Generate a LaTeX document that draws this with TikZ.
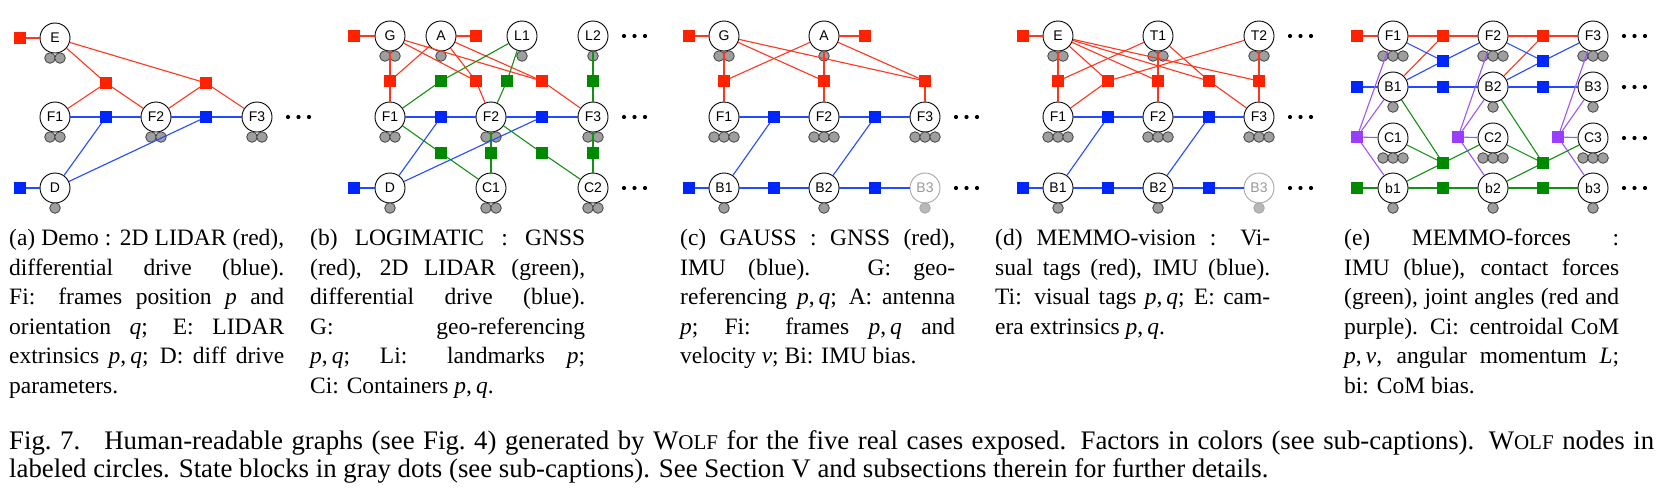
\documentclass[tikz,border=0pt]{standalone}
\usepackage{fontspec}
\setmainfont{Liberation Serif}
\newfontfamily\lblfamily{Liberation Sans}
\definecolor{fred}{RGB}{255,34,0}
\definecolor{fblue}{RGB}{0,38,255}
\definecolor{fgreen}{RGB}{0,138,0}
\definecolor{fpurp}{RGB}{153,61,255}
\definecolor{lred}{RGB}{255,55,30}
\definecolor{lblue}{RGB}{35,75,255}
\definecolor{lgreen}{RGB}{20,145,20}
\definecolor{lpurp}{RGB}{160,85,255}
\definecolor{sbgray}{RGB}{158,158,158}
\newcommand\lblfont{\lblfamily\fontsize{14}{14}\selectfont}
\newcommand\subcapfont{\fontsize{23.5}{29.5}\selectfont}
\newcommand\maincapfont{\fontsize{26.8}{29}\selectfont}
\newcommand\wolfsc{W{\fontsize{21}{21}\selectfont OLF}}
\newcommand\pq{\textit{p},\kern4pt\textit{q}}
\newcommand\sbone[1]{\filldraw[sb] (#1.center) ++(0,20) circle[radius=5.3];}
\newcommand\sbtwo[1]{\filldraw[sb] (#1.center) ++(-5,20) circle[radius=5.3];\filldraw[sb] (#1.center) ++(5,20) circle[radius=5.3];}
\newcommand\sbthree[1]{\filldraw[sb] (#1.center) ++(-10,20) circle[radius=5.3];\filldraw[sb] (#1.center) ++(0,20) circle[radius=5.3];\filldraw[sb] (#1.center) ++(10,20) circle[radius=5.3];}
\newcommand\sbghost[1]{\filldraw[sbg] (#1.center) ++(0,20) circle[radius=5.3];}
\newcommand\ellrow[2]{\fill (#1,#2) circle[radius=2.1]; \fill ({#1+10.5},#2) circle[radius=2.1]; \fill ({#1+21},#2) circle[radius=2.1];}
\begin{document}
\begin{tikzpicture}[x=1pt,y=-1pt,
  var/.style={circle,draw=black,fill=white,line width=0.9pt,minimum size=30pt,inner sep=0pt,font=\lblfont},
  ghost/.style={var,draw=black!35,text=black!40},
  fac/.style={rectangle,minimum size=11.5pt,inner sep=0pt,draw=none},
  fr/.style={fac,fill=fred}, fb/.style={fac,fill=fblue},
  fg/.style={fac,fill=fgreen}, fp/.style={fac,fill=fpurp},
  er/.style={draw=lred,line width=1.1pt}, eb/.style={draw=lblue,line width=1.1pt},
  eg/.style={draw=lgreen,line width=1.1pt}, ep/.style={draw=lpurp,line width=1.1pt},
  sb/.style={fill=sbgray,draw=black!75,line width=0.8pt},
  sbg/.style={fill=black!28,draw=black!35,line width=0.8pt},
  subcap/.style={anchor=base west,inner sep=0pt,font=\subcapfont},
  maincap/.style={anchor=base west,inner sep=0pt,font=\maincapfont}]
\useasboundingbox (0,0) rectangle (1676,488);
\fill[white] (0,0) rectangle (1676,488);

% ---------------- (a) ----------------
\node[var] (aE) at (55,38) {E};
\node[fr] (aRE) at (20,38) {};
\node[fr] (aR1) at (106,83) {};
\node[fr] (aR2) at (206,83) {};
\node[var] (aF1) at (55,117) {F1};
\node[var] (aF2) at (156,117) {F2};
\node[var] (aF3) at (257,117) {F3};
\node[fb] (aB1) at (106,117) {};
\node[fb] (aB2) at (206,117) {};
\node[var] (aD) at (55,188) {D};
\node[fb] (aBD) at (20,188) {};
\sbtwo{aE}\sbtwo{aF1}\sbtwo{aF2}\sbtwo{aF3}\sbone{aD}
\foreach \a/\b in {aRE/aE,aE/aR1,aR1/aF1,aR1/aF2,aE/aR2,aR2/aF2,aR2/aF3} \draw[er] (\a) -- (\b);
\foreach \a/\b in {aF1/aB1,aB1/aF2,aF2/aB2,aB2/aF3,aD/aB1,aD/aB2,aBD/aD} \draw[eb] (\a) -- (\b);
\ellrow{288}{117}

% ---------------- (b) ----------------
\node[var] (bG) at (390,36) {G};
\node[fr] (bRG) at (354,36) {};
\node[var] (bA) at (441,36) {A};
\node[fr] (bRA) at (476,36) {};
\node[var] (bL1) at (522,36) {L1};
\node[var] (bL2) at (593,36) {L2};
\node[fr] (bR1) at (390,81) {};
\node[fg] (bG1) at (441,81) {};
\node[fr] (bR2) at (476,81) {};
\node[fg] (bG2) at (507,81) {};
\node[fr] (bR3) at (542,81) {};
\node[fg] (bG3) at (593,81) {};
\node[var] (bF1) at (390,117) {F1};
\node[fb] (bB1) at (441,117) {};
\node[var] (bF2) at (491,117) {F2};
\node[fb] (bB2) at (542,117) {};
\node[var] (bF3) at (593,117) {F3};
\node[fg] (bG4) at (441,153) {};
\node[fg] (bG5) at (491,153) {};
\node[fg] (bG6) at (542,153) {};
\node[fg] (bG7) at (593,153) {};
\node[var] (bD) at (390,188) {D};
\node[fb] (bBD) at (354,188) {};
\node[var] (bC1) at (491,188) {C1};
\node[var] (bC2) at (593,188) {C2};
\sbtwo{bG}\sbone{bA}\sbone{bL1}\sbone{bL2}\sbtwo{bF1}\sbtwo{bF2}\sbtwo{bF3}\sbone{bD}\sbtwo{bC1}\sbtwo{bC2}
\foreach \a/\b in {bRG/bG,bA/bRA,bG/bR1,bA/bR1,bR1/bF1,bG/bR2,bA/bR2,bR2/bF2,bG/bR3,bA/bR3,bR3/bF3} \draw[er] (\a) -- (\b);
\foreach \a/\b in {bL1/bG1,bG1/bF1,bL1/bG2,bG2/bF2,bL2/bG3,bG3/bF3,bF1/bG4,bG4/bC1,bF2/bG5,bG5/bC1,bF2/bG6,bG6/bC2,bF3/bG7,bG7/bC2} \draw[eg] (\a) -- (\b);
\foreach \a/\b in {bF1/bB1,bB1/bF2,bF2/bB2,bB2/bF3,bD/bB1,bD/bB2,bBD/bD} \draw[eb] (\a) -- (\b);
\ellrow{624}{36}\ellrow{624}{117}\ellrow{624}{188}

% ---------------- (c) ----------------
\node[var] (cG) at (724,36) {G};
\node[fr] (cRG) at (689,36) {};
\node[var] (cA) at (824,36) {A};
\node[fr] (cRA) at (865,36) {};
\node[fr] (cR1) at (724,81) {};
\node[fr] (cR2) at (824,81) {};
\node[fr] (cR3) at (925,81) {};
\node[var] (cF1) at (724,117) {F1};
\node[fb] (cQ1) at (774,117) {};
\node[var] (cF2) at (824,117) {F2};
\node[fb] (cQ2) at (875,117) {};
\node[var] (cF3) at (925,117) {F3};
\node[var] (cB1) at (724,188) {B1};
\node[fb] (cBL) at (689,188) {};
\node[fb] (cQ3) at (774,188) {};
\node[var] (cB2) at (824,188) {B2};
\node[fb] (cQ4) at (875,188) {};
\node[ghost] (cB3) at (925,188) {B3};
\sbtwo{cG}\sbone{cA}\sbthree{cF1}\sbthree{cF2}\sbthree{cF3}\sbone{cB1}\sbone{cB2}\sbghost{cB3}
\foreach \a/\b in {cRG/cG,cA/cRA,cG/cR1,cA/cR1,cR1/cF1,cG/cR2,cA/cR2,cR2/cF2,cG/cR3,cA/cR3,cR3/cF3} \draw[er] (\a) -- (\b);
\foreach \a/\b in {cF1/cQ1,cQ1/cF2,cF2/cQ2,cQ2/cF3,cB1/cQ1,cB2/cQ2,cBL/cB1,cB1/cQ3,cQ3/cB2,cB2/cQ4,cQ4/cB3} \draw[eb] (\a) -- (\b);
\ellrow{956}{117}\ellrow{956}{188}

% ---------------- (d) ----------------
\node[var] (dE) at (1058,36) {E};
\node[fr] (dRE) at (1023,36) {};
\node[var] (dT1) at (1158,36) {T1};
\node[var] (dT2) at (1259,36) {T2};
\node[fr] (dR1) at (1058,81) {};
\node[fr] (dR2) at (1108,81) {};
\node[fr] (dR3) at (1158,81) {};
\node[fr] (dR4) at (1209,81) {};
\node[fr] (dR5) at (1259,81) {};
\node[var] (dF1) at (1058,117) {F1};
\node[fb] (dQ1) at (1108,117) {};
\node[var] (dF2) at (1158,117) {F2};
\node[fb] (dQ2) at (1209,117) {};
\node[var] (dF3) at (1259,117) {F3};
\node[var] (dB1) at (1058,188) {B1};
\node[fb] (dBL) at (1023,188) {};
\node[fb] (dQ3) at (1108,188) {};
\node[var] (dB2) at (1158,188) {B2};
\node[fb] (dQ4) at (1209,188) {};
\node[ghost] (dB3) at (1259,188) {B3};
\sbtwo{dE}\sbtwo{dT1}\sbtwo{dT2}\sbthree{dF1}\sbthree{dF2}\sbthree{dF3}\sbone{dB1}\sbone{dB2}\sbghost{dB3}
\foreach \a/\b in {dRE/dE,dE/dR1,dT1/dR1,dR1/dF1,dE/dR2,dT2/dR2,dR2/dF1,dE/dR3,dT1/dR3,dR3/dF2,dE/dR4,dT1/dR4,dR4/dF3,dE/dR5,dT2/dR5,dR5/dF3} \draw[er] (\a) -- (\b);
\foreach \a/\b in {dF1/dQ1,dQ1/dF2,dF2/dQ2,dQ2/dF3,dB1/dQ1,dB2/dQ2,dBL/dB1,dB1/dQ3,dQ3/dB2,dB2/dQ4,dQ4/dB3} \draw[eb] (\a) -- (\b);
\ellrow{1290}{36}\ellrow{1290}{117}\ellrow{1290}{188}

% ---------------- (e) ----------------
\node[fr] (eRL) at (1357,36) {};
\node[fb] (eBL) at (1357,87) {};
\node[fp] (ePL) at (1357,137) {};
\node[fg] (eGL) at (1357,188) {};
\foreach \i/\x in {1/1393,2/1493,3/1593}{
  \node[var] (eF\i) at (\x,36) {F\i};
  \node[var] (eB\i) at (\x,87) {B\i};
  \node[var] (eC\i) at (\x,138) {C\i};
  \node[var] (eb\i) at (\x,188) {b\i};
}
\foreach \i/\x in {1/1443,2/1543}{
  \node[fr] (eR\i) at (\x,36) {};
  \node[fb] (eQ\i) at (\x,61) {};
  \node[fb] (eH\i) at (\x,87) {};
  \node[fg] (eK\i) at (\x,163) {};
  \node[fg] (eJ\i) at (\x,188) {};
}
\node[fp] (eP2) at (1458,137) {};
\node[fp] (eP3) at (1558,137) {};
\foreach \i in {1,2,3}{\sbthree{eF\i}\sbone{eB\i}\sbthree{eC\i}\sbone{eb\i}}
\foreach \a/\b in {eRL/eF1,eF1/eR1,eR1/eF2,eB1/eR1,eF2/eR2,eR2/eF3,eB2/eR2} \draw[er] (\a) -- (\b);
\foreach \a/\b in {eBL/eB1,eB1/eH1,eH1/eB2,eB2/eH2,eH2/eB3,eF1/eQ1,eQ1/eF2,eB1/eQ1,eF2/eQ2,eQ2/eF3,eB2/eQ2} \draw[eb] (\a) -- (\b);
\foreach \a/\b in {ePL/eF1,ePL/eB1,ePL/eC1,ePL/eb1,eP2/eF2,eP2/eB2,eP2/eC2,eP2/eb2,eP3/eF3,eP3/eB3,eP3/eC3,eP3/eb3} \draw[ep] (\a) -- (\b);
\foreach \a/\b in {eGL/eb1,eb1/eJ1,eJ1/eb2,eb2/eJ2,eJ2/eb3,eB1/eK1,eC1/eK1,eb1/eK1,eK1/eC2,eB2/eK2,eC2/eK2,eb2/eK2,eK2/eC3} \draw[eg] (\a) -- (\b);
\ellrow{1624}{36}\ellrow{1624}{87}\ellrow{1624}{138}\ellrow{1624}{188}

% ---------------- sub-captions ----------------
\node[subcap] (ca1) at (9,245.5) {\makebox[275pt][s]{(a) Demo : 2D LIDAR (red),}};
\node[subcap] (ca2) at (9,275) {\makebox[275pt][s]{differential drive (blue).}};
\node[subcap] (ca3) at (9,304.5) {\makebox[275pt][s]{Fi: frames position \textit{p} and}};
\node[subcap] (ca4) at (9,334) {\makebox[275pt][s]{orientation \textit{q}; E: LIDAR}};
\node[subcap] (ca5) at (9,363.5) {\makebox[275pt][s]{extrinsics \pq; D: diff drive}};
\node[subcap] (ca6) at (9,393) {parameters.};

\node[subcap] (cb1) at (310,245.5) {\makebox[275pt][s]{(b) LOGIMATIC : GNSS}};
\node[subcap] (cb2) at (310,275) {\makebox[275pt][s]{(red), 2D LIDAR (green),}};
\node[subcap] (cb3) at (310,304.5) {\makebox[275pt][s]{differential drive (blue).}};
\node[subcap] (cb4) at (310,334) {\makebox[275pt][s]{G: geo-referencing}};
\node[subcap] (cb5) at (310,363.5) {\makebox[275pt][s]{\pq; Li: landmarks \textit{p};}};
\node[subcap] (cb6) at (310,393) {Ci: Containers \pq.};

\node[subcap] (cc1) at (680,245.5) {\makebox[275pt][s]{(c) GAUSS : GNSS (red),}};
\node[subcap] (cc2) at (680,275) {\makebox[275pt][s]{IMU (blue). G: geo-}};
\node[subcap] (cc3) at (680,304.5) {\makebox[275pt][s]{referencing \pq; A: antenna}};
\node[subcap] (cc4) at (680,334) {\makebox[275pt][s]{\textit{p}; Fi: frames \pq{} and}};
\node[subcap] (cc5) at (680,363.5) {velocity \textit{v}; Bi: IMU bias.};

\node[subcap] (cd1) at (995,245.5) {\makebox[275pt][s]{(d) MEMMO-vision : Vi-}};
\node[subcap] (cd2) at (995,275) {\makebox[275pt][s]{sual tags (red), IMU (blue).}};
\node[subcap] (cd3) at (995,304.5) {\makebox[275pt][s]{Ti: visual tags \pq; E: cam-}};
\node[subcap] (cd4) at (995,334) {era extrinsics \pq.};

\node[subcap] (ce1) at (1344,245.5) {\makebox[275pt][s]{(e) MEMMO-forces :}};
\node[subcap] (ce2) at (1344,275) {\makebox[275pt][s]{IMU (blue), contact forces}};
\node[subcap] (ce3) at (1344,304.5) {\makebox[275pt][s]{(green), joint angles (red and}};
\node[subcap] (ce4) at (1344,334) {\makebox[275pt][s]{purple). Ci: centroidal CoM}};
\node[subcap] (ce5) at (1344,363.5) {\makebox[275pt][s]{\textit{p},\kern4pt\textit{v}, angular momentum \textit{L};}};
\node[subcap] (ce6) at (1344,393) {bi: CoM bias.};

% ---------------- main caption ----------------
\node[maincap] (mc1) at (9,449) {\makebox[1645pt][s]{Fig.~7.\hspace{0.9em}Human-readable graphs (see Fig.~4) generated by \wolfsc{} for the five real cases exposed. Factors in colors (see sub-captions). \wolfsc{} nodes in}};
\node[maincap] (mc2) at (9,477) {labeled circles. State blocks in gray dots (see sub-captions). See Section V and subsections therein for further details.};
\end{tikzpicture}
\end{document}
